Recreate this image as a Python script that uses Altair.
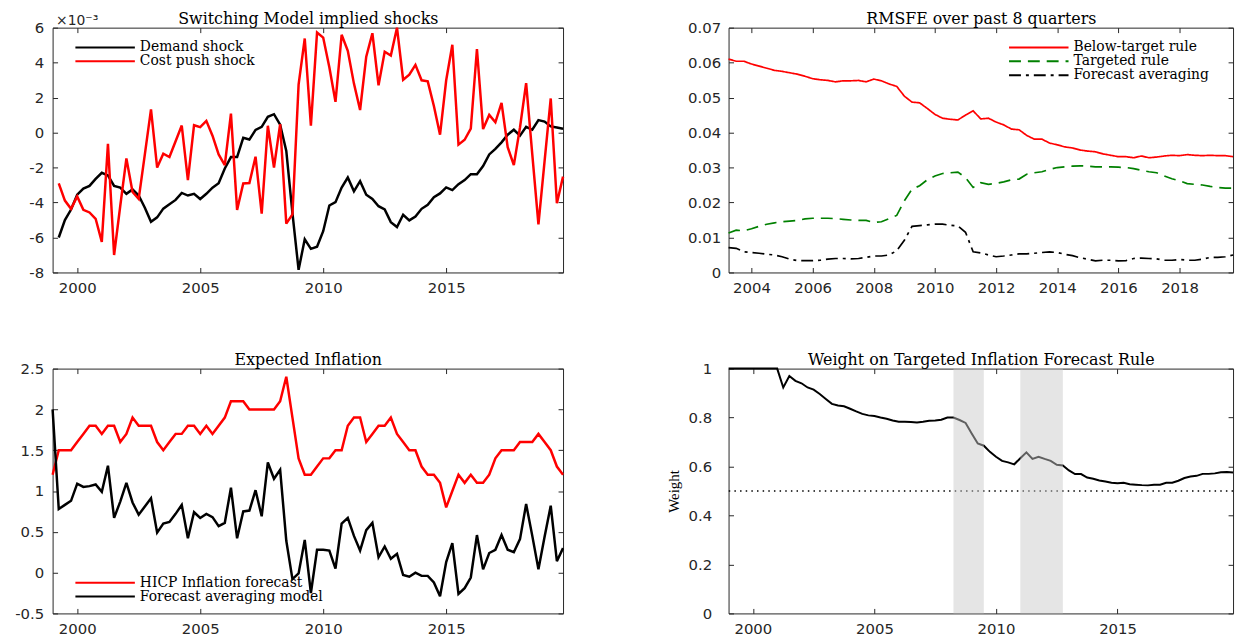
import altair as alt
import pandas as pd

# ---------------- data ----------------
SHOCK_START = 1999.25
demand_shock = [-6.0, -5.0, -4.4, -3.55, -3.2, -3.05, -2.65, -2.3, -2.45, -3.05, -3.15, -3.5, -3.25, -3.6,
                -4.3, -5.1, -4.85, -4.35, -4.1, -3.85, -3.45, -3.6, -3.5, -3.8, -3.5, -3.15, -2.9, -2.05,
                -1.4, -1.4, -0.3, -0.4, 0.15, 0.33, 0.9, 1.05, 0.45, -1.05, -4.6, -7.85, -6.1, -6.65,
                -6.53, -5.64, -4.17, -3.98, -3.14, -2.57, -3.36, -2.78, -3.55, -3.8, -4.21, -4.4, -5.12,
                -5.4, -4.7, -5.02, -4.8, -4.36, -4.13, -3.7, -3.48, -3.14, -3.29, -2.95, -2.72, -2.38,
                -2.38, -1.91, -1.25, -0.93, -0.56, -0.12, 0.16, -0.18, 0.33, 0.16, 0.71, 0.63, 0.35,
                0.29, 0.22]
cost_push_shock = [-2.91, -3.89, -4.36, -3.65, -4.42, -4.57, -4.93, -6.25, -0.65, -7.0, -4.2, -1.48, -3.4,
                   -3.8, -1.25, 1.33, -2.0, -1.21, -1.4, -0.5, 0.4, -2.72, 0.42, 0.31, 0.67, -0.18, -1.25,
                   -1.86, 1.08, -4.42, -2.91, -2.89, -1.38, -4.64, 0.39, -2.0, 0.48, -5.21, -4.68, 2.74,
                   5.38, 0.4,
                   5.72, 5.43, 3.74, 1.76, 5.59, 4.68, 2.8, 1.29, 4.34, 5.68, 2.7, 4.62, 4.4, 6.0, 3.02,
                   3.31, 3.87, 2.99, 2.93, 1.52, -0.12, 2.99, 5.02, -0.69, -0.41, 0.22, 4.78, 0.2, 1.01,
                   0.59, 1.7, -0.84, -1.86, 0.29, 2.83, -1.25, -5.25, -1.63, 1.95, -4.04, -2.52]

RMSFE_START = 2003.25
below_target_rule = [0.0610, 0.0604, 0.0604, 0.0596, 0.0590, 0.0584, 0.0578, 0.0575, 0.0571, 0.0567,
                     0.0561, 0.0554, 0.0551, 0.0549, 0.0545, 0.0548, 0.0548, 0.0549, 0.0545, 0.0553,
                     0.0548, 0.0539, 0.0532, 0.0504, 0.0487, 0.0485, 0.0469, 0.0452, 0.0441, 0.0438,
                     0.0436, 0.0450, 0.0462, 0.0439, 0.0441, 0.0430, 0.0422, 0.0410, 0.0408, 0.0392,
                     0.0381, 0.0381, 0.0370, 0.0365, 0.0359, 0.0356, 0.0350, 0.0347, 0.0345, 0.0339,
                     0.0335, 0.0331, 0.0331, 0.0328, 0.0333, 0.0328, 0.0330, 0.0333, 0.0335, 0.0334,
                     0.0337, 0.0335, 0.0334, 0.0335, 0.0334, 0.0334, 0.0331]
targeted_rule = [0.0113, 0.0121, 0.0119, 0.0125, 0.0132, 0.0138, 0.0142, 0.0145, 0.0147, 0.0149,
                 0.0153, 0.0155, 0.0155, 0.0155, 0.0154, 0.0152, 0.0150, 0.0149, 0.0149, 0.0143,
                 0.0145, 0.0154, 0.0163, 0.0205, 0.0238, 0.0248, 0.0265, 0.0276, 0.0283, 0.0285,
                 0.0287, 0.0271, 0.0243, 0.0257, 0.0252, 0.0255, 0.0259, 0.0265, 0.0267, 0.0281,
                 0.0285, 0.0288, 0.0295, 0.0300, 0.0302, 0.0304, 0.0305, 0.0304, 0.0302, 0.0302,
                 0.0302, 0.0301, 0.0300, 0.0297, 0.0292, 0.0288, 0.0285, 0.0276, 0.0268, 0.0262,
                 0.0254, 0.0252, 0.0250, 0.0246, 0.0243, 0.0241, 0.0241]
forecast_averaging = [0.0071, 0.0069, 0.0059, 0.0057, 0.0055, 0.0052, 0.0050, 0.0045, 0.0038, 0.0034,
                      0.0034, 0.0034, 0.0035, 0.0038, 0.0040, 0.0040, 0.0039, 0.0040, 0.0043, 0.0047,
                      0.0047, 0.0050, 0.0062, 0.0092, 0.0132, 0.0134, 0.0136, 0.0138, 0.0138, 0.0135,
                      0.0133, 0.0115, 0.0059, 0.0056, 0.0050, 0.0045, 0.0047, 0.0050, 0.0053, 0.0053,
                      0.0055, 0.0057, 0.0059, 0.0057, 0.0052, 0.0048, 0.0042, 0.0038, 0.0033, 0.0035,
                      0.0035, 0.0033, 0.0034, 0.0040, 0.0041, 0.0040, 0.0039, 0.0035, 0.0035, 0.0037,
                      0.0035, 0.0035, 0.0038, 0.0043, 0.0043, 0.0045, 0.0050]

INFL_START = 1999.0
hicp_inflation_forecast = [1.2, 1.5, 1.5, 1.5, 1.6, 1.7, 1.8, 1.8, 1.7, 1.8, 1.8, 1.6, 1.7, 1.9, 1.8, 1.8,
                           1.8, 1.6, 1.5, 1.6, 1.7, 1.7, 1.8, 1.8, 1.7, 1.8, 1.7, 1.8, 1.9, 2.1, 2.1, 2.1,
                           2.0, 2.0, 2.0, 2.0, 2.0, 2.1, 2.4, 1.9, 1.4, 1.2, 1.2,
                           1.3, 1.4, 1.4, 1.5, 1.5, 1.8, 1.9, 1.9, 1.6, 1.7, 1.8, 1.8, 1.9, 1.7, 1.6, 1.5,
                           1.5, 1.3, 1.2, 1.2, 1.1, 0.8, 1.0, 1.2, 1.1, 1.2, 1.1, 1.1, 1.2, 1.4, 1.5, 1.5,
                           1.5, 1.6, 1.6, 1.6, 1.7, 1.6, 1.5, 1.3, 1.2]
forecast_averaging_model = [2.0, 0.78, 0.83, 0.88, 1.09, 1.05, 1.06, 1.08, 0.99, 1.31, 0.67, 0.87, 1.1,
                            0.86, 0.71, 0.81, 0.91, 0.49, 0.6, 0.62, 0.72, 0.83, 0.42, 0.74, 0.67, 0.72,
                            0.68, 0.57, 0.61, 1.04, 0.42, 0.75, 0.76, 1.01, 0.69, 1.35, 1.15, 1.26, 0.39,
                            -0.08, -0.01, 0.4, -0.25,
                            0.28, 0.28, 0.27, 0.05, 0.6, 0.67, 0.45, 0.27, 0.52, 0.61, 0.19, 0.32, 0.17,
                            0.23, -0.03, -0.05, 0.0, -0.04, -0.04, -0.12, -0.29, 0.13, 0.36, -0.26, -0.19,
                            -0.06, 0.46, 0.04, 0.24, 0.28, 0.46, 0.28, 0.25, 0.41, 0.84, 0.45, 0.04, 0.44,
                            0.82, 0.14, 0.3]

WEIGHT_START = 1999.0
weight_targeted = [1.0, 1.0, 1.0, 1.0, 1.0, 1.0, 1.0, 1.0, 1.0,
                   0.923, 0.97, 0.95, 0.94, 0.923, 0.914, 0.896, 0.876, 0.856, 0.849, 0.846, 0.836,
                   0.825, 0.815, 0.809, 0.806, 0.8, 0.795, 0.788, 0.783, 0.783, 0.782, 0.78, 0.783,
                   0.787, 0.788, 0.791,
                   0.8, 0.8, 0.79, 0.778, 0.735, 0.694, 0.685, 0.66, 0.64, 0.623, 0.617, 0.609, 0.634,
                   0.658, 0.631, 0.64, 0.631, 0.623, 0.607, 0.604, 0.584, 0.569, 0.569, 0.555, 0.55,
                   0.543, 0.539, 0.534, 0.532, 0.534, 0.528, 0.526, 0.524, 0.523, 0.526, 0.526, 0.534,
                   0.534, 0.542, 0.553, 0.559, 0.562, 0.57, 0.57, 0.572, 0.577, 0.578, 0.576]
band_start = [2008.25, 2011.0]
band_end = [2009.5, 2012.75]
weight_reference = [0.5]

years_5 = [2000, 2005, 2010, 2015]
years_2 = [2004, 2006, 2008, 2010, 2012, 2014, 2016, 2018]
y1_ticks = [-8, -6, -4, -2, 0, 2, 4, 6]
y2_ticks = [0, 0.01, 0.02, 0.03, 0.04, 0.05, 0.06, 0.07]
y3_ticks = [-0.5, 0, 0.5, 1, 1.5, 2, 2.5]
y4_ticks = [0, 0.2, 0.4, 0.6, 0.8, 1]


def quarters(start, n):
    return [start + 0.25 * i for i in range(n)]


def long_table(start, named, field):
    frames = [pd.DataFrame({"t": quarters(start, len(vals)), "v": vals, field: name})
              for name, vals in named]
    return pd.concat(frames, ignore_index=True)


df1 = long_table(SHOCK_START, [("Demand shock", demand_shock), ("Cost push shock", cost_push_shock)], "s1")
df2 = long_table(RMSFE_START, [("Below-target rule", below_target_rule), ("Targeted rule", targeted_rule),
                               ("Forecast averaging", forecast_averaging)], "s2")
df3 = long_table(INFL_START, [("HICP Inflation forecast", hicp_inflation_forecast),
                              ("Forecast averaging model", forecast_averaging_model)], "s3")
df4 = pd.DataFrame({"t": quarters(WEIGHT_START, len(weight_targeted)), "v": weight_targeted})
bands = pd.DataFrame({"start": band_start, "end": band_end})
ref_line = pd.DataFrame({"v": weight_reference})

# ---------------- styling helpers ----------------
AX = "#262626"
WL, WR, H = 515, 509, 247
LABELS = dict(labelFont="DejaVu Sans", labelFontSize=15, labelColor=AX, labelExpr="'' + datum.value",
              labelFlush=False, labelOverlap=False)
TICKS = dict(domain=False, grid=False, ticks=True, tickSize=5, offset=-5, tickColor=AX, tickWidth=1)


def bottom_axis(values):
    return alt.Axis(values=values, orient="bottom", title=None, labelPadding=8, minExtent=0, maxExtent=0,
                    **TICKS, **LABELS)


def left_axis(values, pad, extent, **kw):
    return alt.Axis(values=values, orient="left", labelPadding=pad, minExtent=extent, maxExtent=extent,
                    **TICKS, **LABELS, **kw)


def top_ticks(values, title, width):
    # tick-only top axis; its title carries the panel heading
    return alt.Axis(values=values, orient="top", labels=False, minExtent=0, maxExtent=0,
                    title=title, titleX=width / 2, titleY=-9, titleAngle=0, titleAlign="center",
                    titleBaseline="alphabetic", titleFont="DejaVu Serif", titleFontSize=16,
                    titleFontWeight="normal", titleColor="black", **TICKS)


def right_ticks(values):
    return alt.Axis(values=values, orient="right", labels=False, title=None, minExtent=0, maxExtent=0, **TICKS)


def make_legend(x, y):
    return alt.Legend(orient="none", legendX=x, legendY=y, title=None, direction="vertical",
                      symbolType="M-5,0H5", symbolSize=144, symbolStrokeWidth=2,
                      labelFont="DejaVu Serif", labelFontSize=14, labelColor="black",
                      labelOffset=28, rowPadding=0, padding=0, labelLimit=400, symbolOffset=0)


def scale(lo, hi):
    return alt.Scale(domain=[lo, hi], nice=False, zero=False)


def framed(layers, x_scale, y_scale, data, xticks, yticks, title, width, detail=None):
    enc = dict(x=alt.X("t:Q", scale=x_scale, axis=top_ticks(xticks, title, width)),
               y=alt.Y("v:Q", scale=y_scale, axis=right_ticks(yticks)))
    if detail:
        enc["detail"] = detail
    frame = alt.Chart(data).mark_line(opacity=0).encode(**enc)
    return alt.layer(*layers, frame).resolve_axis(x="independent", y="independent").properties(
        width=width, height=H)


# ---------------- panel 1 ----------------
xs1, ys1 = scale(1999, 2019.75), scale(-8, 6)
p1_lines = alt.Chart(df1).mark_line(strokeWidth=2.5, strokeMiterLimit=3).encode(
    x=alt.X("t:Q", scale=xs1, axis=bottom_axis(years_5)),
    y=alt.Y("v:Q", scale=ys1, axis=left_axis(
        y1_ticks, 9, 49, title="×10⁻³", titleX=-2, titleY=-3.5, titleAngle=0, titleAlign="left",
        titleBaseline="alphabetic", titleFont="DejaVu Sans", titleFontSize=14, titleFontWeight="normal",
        titleColor=AX)),
    color=alt.Color("s1:N", scale=alt.Scale(domain=["Demand shock", "Cost push shock"],
                                            range=["#000000", "#ff0000"]), legend=make_legend(46, 13)),
)
p1 = framed([p1_lines], xs1, ys1, df1, years_5, y1_ticks, "Switching Model implied shocks", WL, "s1:N")

# ---------------- panel 2 ----------------
xs2, ys2 = scale(2003.25, 2019.75), scale(0, 0.07)
names2 = ["Below-target rule", "Targeted rule", "Forecast averaging"]
leg2 = make_legend(306, 13)
p2_lines = alt.Chart(df2).mark_line(strokeWidth=1.7).encode(
    x=alt.X("t:Q", scale=xs2, axis=bottom_axis(years_2)),
    y=alt.Y("v:Q", scale=ys2, axis=left_axis(y2_ticks, 8, 67, title=None)),
    color=alt.Color("s2:N", scale=alt.Scale(domain=names2, range=["#ff0000", "#008000", "#000000"]),
                    legend=leg2),
    strokeDash=alt.StrokeDash("s2:N", scale=alt.Scale(domain=names2, range=[[1, 0], [12, 7], [12, 5, 3, 5]]),
                              legend=leg2),
)
p2 = framed([p2_lines], xs2, ys2, df2, years_2, y2_ticks, "RMSFE over past 8 quarters", WR, "s2:N")

# ---------------- panel 3 ----------------
xs3, ys3 = scale(1999, 2019.75), scale(-0.5, 2.5)
p3_lines = alt.Chart(df3).mark_line(strokeWidth=2.5, strokeMiterLimit=3).encode(
    x=alt.X("t:Q", scale=xs3, axis=bottom_axis(years_5)),
    y=alt.Y("v:Q", scale=ys3, axis=left_axis(y3_ticks, 9, 49, title=None)),
    color=alt.Color("s3:N", scale=alt.Scale(domain=["HICP Inflation forecast", "Forecast averaging model"],
                                            range=["#ff0000", "#000000"]), legend=make_legend(46, 209)),
)
p3 = framed([p3_lines], xs3, ys3, df3, years_5, y3_ticks, "Expected Inflation", WL, "s3:N")

# ---------------- panel 4 ----------------
xs4, ys4 = scale(1999, 2019.75), scale(0, 1)
p4_line = alt.Chart(df4).mark_line(color="black", strokeWidth=2).encode(
    x=alt.X("t:Q", scale=xs4, axis=bottom_axis(years_5)),
    y=alt.Y("v:Q", scale=ys4, axis=left_axis(
        y4_ticks, 17, 48, title="Weight", titleFont="Liberation Serif", titleFontSize=15,
        titleFontWeight="normal", titleColor="black", titlePadding=4)),
)
p4_rule = alt.Chart(ref_line).mark_rule(color="black", strokeWidth=1.5, strokeDash=[1.5, 4.2]).encode(
    y=alt.Y("v:Q", scale=ys4, axis=None))
p4_bands = alt.Chart(bands).mark_rect(color="#c9c9c9", opacity=0.48).encode(
    x=alt.X("start:Q", scale=xs4, axis=None), x2="end:Q")
p4 = framed([p4_line, p4_rule, p4_bands], xs4, ys4, df4, years_5, y4_ticks,
            "Weight on Targeted Inflation Forecast Rule", WR)

row1 = alt.hconcat(p1, p2, spacing=99).resolve_scale(color="independent", strokeDash="independent")
row2 = alt.hconcat(p3, p4, spacing=99).resolve_scale(color="independent", strokeDash="independent")

chart = alt.vconcat(row1, row2, spacing=55).resolve_scale(
    color="independent", strokeDash="independent"
).properties(
    padding={"left": 0, "top": -1, "right": 0, "bottom": 0}, background="white"
).configure_view(stroke=AX, strokeWidth=1)

chart.save("out.html", embed_options={"renderer": "svg", "actions": False})
